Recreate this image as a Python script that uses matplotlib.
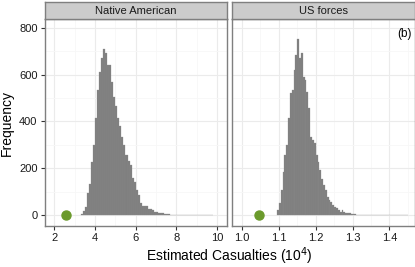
import numpy as np
import matplotlib
matplotlib.use("Agg")
import matplotlib.pyplot as plt

plt.rcParams['font.family'] = ['Liberation Sans', 'DejaVu Sans']

# histogram counts
native_start = 3.3
native_width = 0.1
native_counts = [4, 15, 36, 94, 132, 228, 299, 415, 534, 612, 670, 708, 694, 641,
                 640, 570, 504, 466, 415, 380, 334, 300, 256, 230, 213, 158, 143,
                 107, 85, 53, 40, 40, 38, 27, 27, 21, 14, 14, 10, 7, 7, 4, 3, 3,
                 2, 2, 1, 2, 1, 1, 1, 0, 1, 1, 0, 1, 0, 1, 0, 0, 1, 0, 0, 0, 1]

us_start = 1.095
us_width = 0.005
us_counts = [21, 51, 107, 185, 256, 299, 414, 521, 534, 620, 684, 751, 670, 691,
             591, 577, 527, 457, 335, 320, 308, 256, 228, 192, 154, 128, 107, 78,
             64, 57, 43, 36, 30, 21, 14, 21, 14, 10, 10, 8, 6, 4, 4, 2, 2, 2, 1,
             1, 1, 0, 1, 1, 0, 1, 0, 0, 1, 0, 0, 0, 1, 0, 0, 0, 0, 1, 0, 0, 0, 0, 1]

# observed values (green points)
native_obs = 2.55
us_obs = 1.047

panels = [
    ("Native American", native_start, native_width, native_counts, native_obs,
     (1.51, 10.5), [2, 4, 6, 8, 10], [3, 5, 7, 9]),
    ("US forces", us_start, us_width, us_counts, us_obs,
     (0.973, 1.468), [1.0, 1.1, 1.2, 1.3, 1.4], [1.05, 1.15, 1.25, 1.35, 1.45]),
]

W, H = 415, 267
fig = plt.figure(figsize=(W / 100, H / 100), dpi=100)

lefts = [44.5, 232]
pw = 182.5
top_px, bot_px, strip_top = 19, 226, 2

for i, (name, start, width, counts, obs, xlim, xt, xmin) in enumerate(panels):
    ax = fig.add_axes([lefts[i] / W, 1 - bot_px / H, pw / W, (bot_px - top_px) / H])
    counts = np.array(counts)
    edges = start + width * np.arange(len(counts))
    ax.bar(edges, counts, width=width, align='edge', color='#7f7f7f',
           edgecolor='#8c8c8c', linewidth=0.2, zorder=2)
    ax.plot([obs], [0], 'o', color='#6b9a2c', markersize=6.5, zorder=3)
    ax.set_xlim(*xlim)
    ax.set_ylim(-47, 838)
    ax.set_xticks(xt)
    ax.set_xticks(xmin, minor=True)
    ax.set_yticks([0, 200, 400, 600, 800])
    ax.set_yticks([100, 300, 500, 700], minor=True)
    if i == 1:
        ax.set_xticklabels(['1.0', '1.1', '1.2', '1.3', '1.4'])
    ax.grid(True, which='major', color='#ebebeb', linewidth=0.8, zorder=0)
    ax.grid(True, which='minor', color='#f7f7f7', linewidth=0.6, zorder=0)
    ax.set_axisbelow(True)
    for s in ax.spines.values():
        s.set_color('#7f7f7f')
        s.set_linewidth(1.0)
    ax.tick_params(which='minor', length=0)
    ax.tick_params(which='major', length=3, width=0.8, color='#333333',
                   labelsize=8, labelcolor='#1a1a1a', pad=2)
    if i == 0:
        ax.set_ylabel('Frequency', fontsize=10, labelpad=4)
    else:
        ax.tick_params(axis='y', left=False, labelleft=False)
        ax.text(0.985, 0.955, '(b)', transform=ax.transAxes, ha='right', va='top',
                fontsize=8.5)

    # facet strip
    sax = fig.add_axes([lefts[i] / W, 1 - top_px / H, pw / W, (top_px - strip_top) / H])
    sax.set_facecolor('#cccccc')
    sax.set_xticks([])
    sax.set_yticks([])
    for s in sax.spines.values():
        s.set_color('#7f7f7f')
        s.set_linewidth(1.0)
    sax.text(0.5, 0.5, name, ha='center', va='center', fontsize=8,
             color='#1a1a1a', transform=sax.transAxes)

fig.text((44.5 + 414) / 2 / W, 1 - 256 / H, 'Estimated Casualties (10$^4$)',
         ha='center', va='center', fontsize=10)

fig.savefig('out.png', dpi=100)
